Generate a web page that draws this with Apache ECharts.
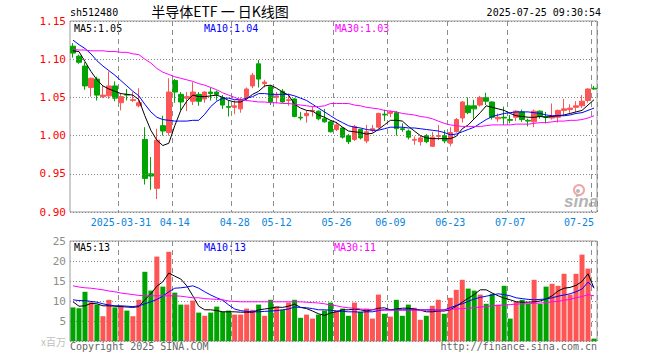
<!DOCTYPE html>
<html>
<head>
<meta charset="utf-8">
<script src="https://cdn.jsdelivr.net/npm/echarts@6/dist/echarts.min.js"></script>
<style>html,body{margin:0;padding:0;background:#fff}#c{width:660px;height:360px}</style>
</head>
<body>
<div id="c"></div>
<script>
const dates = ['2025-03-19','2025-03-20','2025-03-21','2025-03-24','2025-03-25','2025-03-26','2025-03-27','2025-03-28','2025-03-31',
'2025-04-01','2025-04-02','2025-04-03','2025-04-07','2025-04-08','2025-04-09','2025-04-10','2025-04-11','2025-04-14','2025-04-15','2025-04-16','2025-04-17','2025-04-18','2025-04-21','2025-04-22','2025-04-23','2025-04-24','2025-04-25','2025-04-28','2025-04-29','2025-04-30',
'2025-05-06','2025-05-07','2025-05-08','2025-05-09','2025-05-12','2025-05-13','2025-05-14','2025-05-15','2025-05-16','2025-05-19','2025-05-20','2025-05-21','2025-05-22','2025-05-23','2025-05-26','2025-05-27','2025-05-28','2025-05-29','2025-05-30',
'2025-06-03','2025-06-04','2025-06-05','2025-06-06','2025-06-09','2025-06-10','2025-06-11','2025-06-12','2025-06-13','2025-06-16','2025-06-17','2025-06-18','2025-06-19','2025-06-20','2025-06-23','2025-06-24','2025-06-25','2025-06-26','2025-06-27','2025-06-30',
'2025-07-01','2025-07-02','2025-07-03','2025-07-04','2025-07-07','2025-07-08','2025-07-09','2025-07-10','2025-07-11','2025-07-14','2025-07-15','2025-07-16','2025-07-17','2025-07-18','2025-07-21','2025-07-22','2025-07-23','2025-07-24','2025-07-25'];

const tickDates = ['2025-03-31','2025-04-14','2025-04-28','2025-05-12','2025-05-26','2025-06-09','2025-06-23','2025-07-07','2025-07-25'];

const opens = [1.117,1.104,1.091,1.063,1.074,1.051,1.052,1.065,1.043,1.054,
1.046,1.039,0.995,0.950,0.931,1.013,1.004,1.072,1.054,1.049,
1.045,1.054,1.048,1.057,1.057,1.050,1.038,1.037,1.035,1.050,
1.065,1.094,1.068,1.064,1.050,1.058,1.046,1.048,1.024,1.026,
1.032,1.032,1.022,1.018,1.008,1.010,1.000,0.995,1.008,0.993,
1.007,1.011,1.028,1.029,1.030,1.009,1.006,0.994,0.992,1.000,
0.986,0.999,1.000,0.990,1.005,1.023,1.039,1.039,1.040,1.050,
1.044,1.022,1.024,1.021,1.024,1.031,1.020,1.018,1.032,1.025,
1.023,1.024,1.033,1.034,1.037,1.039,1.046,1.062];
const closes = [1.108,1.096,1.065,1.075,1.053,1.053,1.065,1.049,1.051,1.053,
1.047,1.043,0.944,0.947,0.994,1.006,1.057,1.057,1.044,1.051,
1.057,1.045,1.057,1.055,1.054,1.040,1.037,1.039,1.046,1.061,
1.079,1.074,1.070,1.044,1.052,1.044,1.047,1.025,1.023,1.029,
1.033,1.022,1.018,1.005,1.014,0.998,0.992,1.012,0.997,1.005,
1.009,1.029,1.027,1.031,1.009,1.008,0.998,0.995,0.997,0.992,
0.998,1.000,0.993,1.004,1.021,1.044,1.030,1.035,1.050,1.045,
1.024,1.024,1.023,1.020,1.032,1.021,1.019,1.032,1.025,1.024,
1.025,1.033,1.035,1.036,1.039,1.045,1.061,1.061];
const lows = [1.102,1.094,1.060,1.051,1.046,1.049,1.048,1.045,1.033,1.046,
1.044,1.037,0.936,0.929,0.917,1.000,1.000,1.043,1.033,1.032,
1.040,1.039,1.043,1.046,1.046,1.035,1.025,1.028,1.030,1.045,
1.062,1.063,1.063,1.040,1.042,1.043,1.039,1.024,1.020,1.017,
1.025,1.020,1.017,1.004,1.006,0.996,0.989,0.993,0.995,0.990,
1.004,1.009,1.019,1.024,1.000,1.005,0.995,0.988,0.987,0.990,
0.985,0.994,0.990,0.986,1.004,1.017,1.028,1.022,1.038,1.040,
1.021,1.018,1.014,1.016,1.019,1.018,1.012,1.011,1.022,1.016,
1.021,1.017,1.027,1.030,1.031,1.036,1.043,1.060];
const highs = [1.121,1.106,1.096,1.076,1.077,1.066,1.084,1.071,1.055,1.061,
1.057,1.062,1.011,0.972,1.009,1.026,1.075,1.074,1.057,1.057,
1.070,1.057,1.058,1.063,1.059,1.053,1.046,1.046,1.050,1.063,
1.082,1.099,1.073,1.066,1.057,1.061,1.055,1.049,1.031,1.033,
1.038,1.033,1.035,1.020,1.018,1.011,1.002,1.014,1.009,1.014,
1.014,1.030,1.034,1.033,1.032,1.016,1.008,0.999,1.000,1.002,
1.005,1.014,1.007,1.011,1.023,1.045,1.050,1.047,1.052,1.056,
1.045,1.029,1.038,1.027,1.033,1.034,1.022,1.034,1.033,1.031,
1.042,1.034,1.048,1.041,1.045,1.053,1.062,1.065];

const ma5 = [1.111,1.110,1.097,1.084,1.073,1.065,1.061,1.058,1.055,1.054,
1.053,1.047,1.026,1.007,0.994,0.987,0.990,1.013,1.033,1.045,
1.053,1.051,1.051,1.052,1.053,1.050,1.046,1.044,1.044,1.048,
1.054,1.058,1.065,1.066,1.062,1.057,1.053,1.041,1.036,1.033,
1.032,1.027,1.024,1.020,1.017,1.011,1.006,1.005,1.004,1.002,
1.003,1.008,1.014,1.020,1.020,1.019,1.012,1.006,1.000,0.997,
0.996,0.996,0.996,0.996,0.999,1.009,1.014,1.022,1.030,1.039,
1.037,1.035,1.033,1.029,1.026,1.025,1.024,1.024,1.025,1.024,
1.025,1.026,1.027,1.029,1.031,1.033,1.040,1.047];
const ma10 = [1.125,1.119,1.114,1.107,1.098,1.091,1.085,1.079,1.072,1.065,
1.058,1.052,1.041,1.031,1.024,1.021,1.020,1.019,1.019,1.019,
1.020,1.020,1.028,1.038,1.045,1.049,1.049,1.047,1.047,1.049,
1.051,1.055,1.055,1.054,1.054,1.054,1.054,1.052,1.049,1.046,
1.041,1.036,1.031,1.026,1.021,1.017,1.013,1.011,1.010,1.008,
1.007,1.007,1.009,1.011,1.011,1.011,1.010,1.010,1.009,1.008,
1.007,1.006,1.004,1.001,1.002,1.005,1.008,1.011,1.016,1.021,
1.025,1.027,1.029,1.030,1.031,1.031,1.031,1.030,1.029,1.027,
1.026,1.026,1.026,1.027,1.029,1.030,1.033,1.036];
const ma30 = [1.113,1.112,1.112,1.111,1.111,1.111,1.110,1.110,1.109,1.109,
1.107,1.106,1.100,1.095,1.088,1.083,1.080,1.077,1.075,1.073,
1.071,1.068,1.066,1.063,1.060,1.056,1.053,1.050,1.047,1.046,
1.045,1.044,1.044,1.043,1.043,1.042,1.042,1.041,1.040,1.039,
1.038,1.038,1.039,1.042,1.042,1.042,1.042,1.040,1.039,1.037,
1.036,1.035,1.033,1.032,1.031,1.029,1.028,1.027,1.025,1.024,
1.022,1.019,1.016,1.014,1.013,1.012,1.012,1.012,1.012,1.013,
1.014,1.014,1.014,1.014,1.015,1.015,1.015,1.016,1.017,1.017,
1.018,1.019,1.019,1.020,1.020,1.021,1.023,1.026];

const volumes = [8.4,8.2,12.3,9.7,9.1,6.2,10.3,8.4,8.7,7.6,
6.2,10.3,17.3,12.6,21.1,13.6,22.3,12.1,9.1,9.1,
10.1,7.1,6.3,7.1,8.6,7.3,7.6,6.6,6.6,8.1,
7.8,9.1,6.3,10.3,8.6,7.8,9.6,10.3,5.8,6.6,
5.6,6.6,7.6,9.6,7.6,8.1,6.3,9.6,7.3,8.1,
5.6,11.6,6.8,6.1,10.3,6.3,9.1,8.3,5.3,6.3,
8.8,10.3,6.8,10.8,12.8,15.3,13.1,12.6,11.6,9.3,
11.8,9.1,13.8,5.6,9.8,10.3,9.3,15.3,9.3,13.6,
14.3,13.8,16.8,11.6,16.8,21.6,18.1,0.6];
const volMa5 = [9.8,8.7,8.8,9.4,9.3,8.8,8.8,8.7,8.6,8.5,
8.4,8.6,10.3,11.8,13.7,14.8,17.0,16.2,15.5,13.8,
11.3,8.7,7.8,7.8,7.6,7.3,7.3,7.3,7.2,7.2,
7.2,7.8,8.0,8.2,8.5,8.4,8.7,9.2,8.4,8.1,
7.5,6.8,6.4,7.0,7.3,7.8,7.8,8.0,7.8,7.5,
7.8,8.2,8.3,7.8,8.0,8.2,8.2,8.0,7.7,7.3,
7.3,7.5,7.5,7.8,8.7,9.7,10.7,11.6,12.8,12.8,
12.0,11.3,10.7,10.3,9.8,9.7,9.7,9.8,10.0,10.5,
11.3,12.5,13.2,13.4,13.9,14.9,16.8,13.2];
const volMa10 = [10.3,10.1,10.1,9.9,9.7,9.3,9.0,8.8,8.8,8.7,
8.6,8.8,9.3,9.8,10.4,11.2,12.3,13.2,13.3,13.5,
13.8,13.2,12.3,11.5,10.8,10.2,9.0,8.0,7.6,7.4,
7.3,7.3,7.4,7.5,7.6,7.8,8.0,8.5,8.4,8.3,
8.1,7.8,7.8,7.7,7.5,7.4,7.3,7.3,7.2,7.3,
7.3,7.6,7.8,7.8,7.8,7.8,7.8,7.8,7.8,7.8,
7.8,7.7,7.8,8.3,8.9,9.3,9.9,10.5,10.9,11.2,
11.5,11.8,11.6,11.3,10.8,10.6,10.4,10.3,10.4,10.5,
10.8,11.2,11.5,11.8,12.3,13.0,14.7,13.4];
const volMa30 = [13.8,13.5,13.3,13.2,13.0,12.8,12.5,12.3,12.0,11.8,
11.6,11.4,11.3,11.3,11.3,11.3,11.3,11.3,11.2,11.0,
10.8,10.8,10.6,10.5,10.4,10.3,10.0,9.9,9.8,9.8,
9.8,9.8,9.8,9.8,9.8,9.8,9.8,9.8,9.8,9.7,
9.6,9.5,9.3,9.0,8.8,8.5,8.3,8.2,8.0,7.9,
7.8,7.8,7.7,7.7,7.7,7.7,7.7,7.7,7.7,7.7,
7.7,7.7,7.7,7.9,8.0,8.1,8.2,8.3,8.5,8.6,
8.8,8.9,9.0,9.1,9.2,9.3,9.3,9.4,9.5,9.6,
9.8,9.9,10.2,10.4,10.8,11.1,11.6,11.3];

const priceLegend = ['MA5:1.05','MA10:1.04','MA30:1.03'];
const volLegend = ['MA5:13','MA10:13','MA30:11'];

const UP = '#ff5454', DOWN = '#00a400';
const MONO = '"DejaVu Sans Mono","Liberation Mono",monospace';
const font = (s) => s + 'px ' + MONO;

const chart = echarts.init(document.getElementById('c'), null, {renderer: 'svg'});

const ohlc = dates.map((d, i) => [opens[i], closes[i], lows[i], highs[i]]);
const volData = volumes.map((v, i) => ({
  value: v,
  itemStyle: {color: closes[i] > opens[i] ? UP : DOWN}
}));

const dashSplit = () => ({
  show: true,
  interval: (idx) => tickDates.indexOf(dates[idx]) >= 0,
  lineStyle: {type: [5, 4], color: '#8c8c8c', width: 1}
});
const dotSplit = () => ({
  show: true,
  lineStyle: {type: [1, 2], color: '#888888', width: 1}
});

const maLine = (name, data, color, xi, yi) => ({
  name, type: 'line', data, xAxisIndex: xi, yAxisIndex: yi,
  showSymbol: false, symbol: 'none', silent: true,
  lineStyle: {color, width: 1}, z: 5
});

const txt = (text, x, y, fill, f, align) => ({
  type: 'text', silent: true,
  style: {text, x, y, fill, font: f, textAlign: align || 'left', textVerticalAlign: 'middle'}
});

const MAIN = {left: 70, right: 63, top: 21, height: 191};
const VOL = {left: 70, right: 63, top: 241, height: 100};

const option = {
  animation: false,
  backgroundColor: '#fff',
  grid: [
    Object.assign({show: true, borderColor: '#9a9a9a', borderWidth: 1}, MAIN),
    Object.assign({show: true, borderColor: '#9a9a9a', borderWidth: 1}, VOL),
    Object.assign({show: false}, MAIN)
  ],
  xAxis: [
    {
      type: 'category', data: dates, gridIndex: 0, boundaryGap: true,
      axisLine: {show: false}, axisTick: {show: false}, splitLine: {show: false},
      axisLabel: {
        interval: (idx, val) => tickDates.indexOf(val) >= 0,
        formatter: (val) => tickDates.indexOf(val) === 0 ? val : val.slice(5),
        color: '#0a84dc', fontFamily: MONO, fontSize: 10, margin: 5, alignMaxLabel: 'right'
      }
    },
    {
      type: 'category', data: dates, gridIndex: 1, boundaryGap: true,
      axisLine: {show: false}, axisTick: {show: false}, axisLabel: {show: false}, splitLine: dashSplit()
    },
    {
      type: 'category', data: dates, gridIndex: 2, boundaryGap: true, z: 4,
      axisLine: {show: false}, axisTick: {show: false}, axisLabel: {show: false}, splitLine: dashSplit()
    }
  ],
  yAxis: [
    {
      type: 'value', gridIndex: 0, min: 0.9, max: 1.15, interval: 0.05,
      axisLine: {show: false}, axisTick: {show: false},
      axisLabel: {formatter: v => v.toFixed(2), color: '#ff0000', fontFamily: MONO, fontSize: 11, margin: 4},
      splitLine: {show: false}
    },
    {
      type: 'value', gridIndex: 1, min: 0, max: 25, interval: 5,
      axisLine: {show: false}, axisTick: {show: false},
      axisLabel: {
        formatter: v => v === 0 ? '{u|x百万}' : String(v),
        color: '#8c8c8c', fontFamily: MONO, fontSize: 11, margin: 4,
        rich: {u: {color: '#c0c0c0', fontSize: 10, fontFamily: '"Noto Sans CJK SC", sans-serif'}}
      },
      splitLine: dotSplit()
    },
    {
      type: 'value', gridIndex: 2, min: 0.9, max: 1.15, interval: 0.05, z: 4,
      axisLine: {show: false}, axisTick: {show: false}, axisLabel: {show: false},
      splitLine: dotSplit()
    }
  ],
  series: [
    {
      name: 'K', type: 'candlestick', data: ohlc, xAxisIndex: 0, yAxisIndex: 0,
      barWidth: 5, silent: true,
      itemStyle: {color: UP, color0: DOWN, borderColor: UP, borderColor0: DOWN, borderWidth: 1},
      z: 3
    },
    maLine('MA5', ma5, '#000000', 0, 0),
    maLine('MA10', ma10, '#0000ff', 0, 0),
    maLine('MA30', ma30, '#ff00ff', 0, 0),
    {
      name: 'VOL', type: 'bar', data: volData, xAxisIndex: 1, yAxisIndex: 1,
      barWidth: 5, silent: true, z: 3
    },
    maLine('VMA5', volMa5, '#000000', 1, 1),
    maLine('VMA10', volMa10, '#0000ff', 1, 1),
    maLine('VMA30', volMa30, '#ff00ff', 1, 1)
  ],
  graphic: [
    txt('sh512480', 70, 12, '#000', font(10)),
    txt('半导体ETF 一 日K线图', 220, 11, '#000', '14px "Noto Sans CJK SC", sans-serif', 'center'),
    txt('2025-07-25 09:30:54', 601, 12, '#000', font(10), 'right'),
    txt(priceLegend[0], 74, 28, '#000', font(10)),
    txt(priceLegend[1], 204, 28, '#0000ff', font(10)),
    txt(priceLegend[2], 335, 28, '#ff00ff', font(10)),
    txt(volLegend[0], 74, 247, '#000', font(10)),
    txt(volLegend[1], 204, 247, '#0000ff', font(10)),
    txt(volLegend[2], 334, 247, '#ff00ff', font(10)),
    txt('Copyright 2025 SINA.COM', 70, 346, '#666', font(10)),
    txt('http://finance.sina.com.cn', 597, 346, '#666', font(10), 'right'),
    {type: 'circle', silent: true, shape: {cx: 579, cy: 190, r: 5},
     style: {fill: 'none', stroke: '#f4a6a6', lineWidth: 2}},
    {type: 'circle', silent: true, shape: {cx: 578, cy: 191, r: 2},
     style: {fill: '#b8b8b8'}},
    txt('sina', 581, 201, '#b4b4b4', 'italic bold 17px "Liberation Sans", Arial, sans-serif', 'center')
  ]
};
chart.setOption(option);
</script>
</body>
</html>
